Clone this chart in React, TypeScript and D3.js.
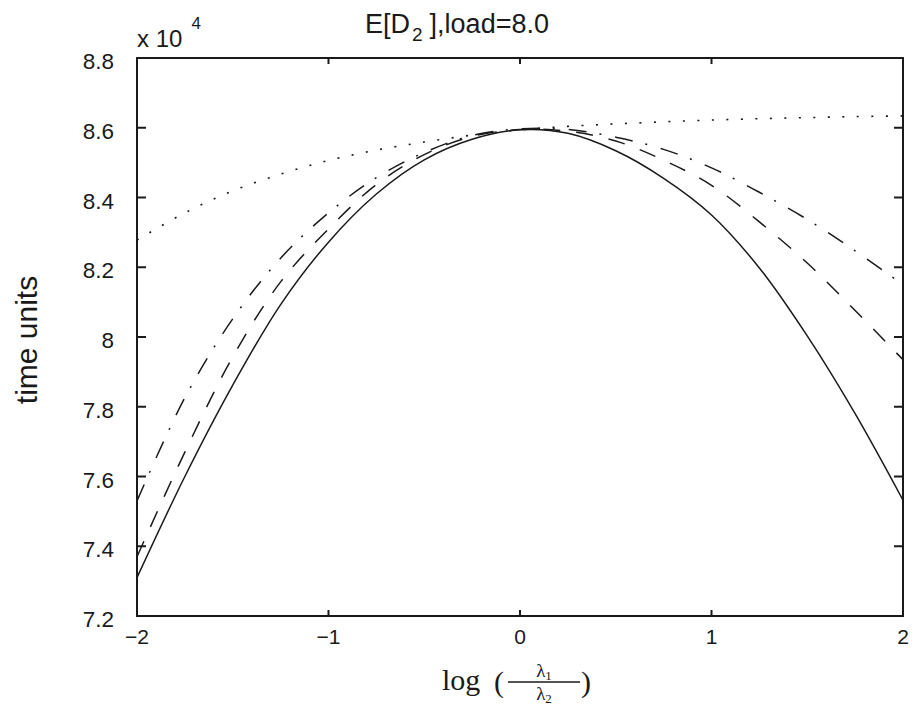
import React from "react";
import * as d3 from "d3";

const xs = [-2, -1.75, -1.5, -1.25, -1, -0.75, -0.5, -0.25, 0, 0.25, 0.5, 0.75, 1, 1.25, 1.5, 1.75, 2];
const solidVals = [7.31, 7.6, 7.862, 8.093, 8.272, 8.41, 8.508, 8.567, 8.594, 8.584, 8.534, 8.455, 8.35, 8.198, 8.003, 7.78, 7.532];
const dashedVals = [7.37, 7.67, 7.943, 8.158, 8.31, 8.437, 8.523, 8.575, 8.595, 8.59, 8.562, 8.507, 8.435, 8.33, 8.212, 8.076, 7.935];
const dashDotVals = [7.53, 7.826, 8.052, 8.226, 8.356, 8.457, 8.529, 8.578, 8.597, 8.595, 8.573, 8.538, 8.485, 8.415, 8.337, 8.247, 8.15];
const dottedVals = [8.278, 8.356, 8.419, 8.467, 8.506, 8.536, 8.559, 8.579, 8.594, 8.604, 8.611, 8.617, 8.622, 8.626, 8.629, 8.632, 8.634];

const yTicks = [7.2, 7.4, 7.6, 7.8, 8.0, 8.2, 8.4, 8.6, 8.8];
const yTickLabels = ["7.2", "7.4", "7.6", "7.8", "8", "8.2", "8.4", "8.6", "8.8"];
const xTicks = [-2, -1, 0, 1, 2];
const xTickLabels = ["\u22122", "\u22121", "0", "1", "2"];

const series = [
  { name: "solid", values: solidVals, dash: "none" },
  { name: "dashed", values: dashedVals, dash: "17,16" },
  { name: "dashdot", values: dashDotVals, dash: "18,13,2,14" },
  { name: "dotted", values: dottedVals, dash: "2,12.5" },
];

const W = 916;
const H = 709;
const L = 137, R = 903, T = 58, B = 616;
const SANS = "'Liberation Sans', Arial, Helvetica, sans-serif";
const SERIF = "'Liberation Serif', 'Times New Roman', serif";
const INK = "#1a1a1a";

export default function App() {
  const x = d3.scaleLinear().domain([-2, 2]).range([L, R]);
  const y = d3.scaleLinear().domain([7.2, 8.8]).range([B, T]);
  const line = d3
    .line<number>()
    .x((_, i) => x(xs[i]))
    .y((d) => y(d))
    .curve(d3.curveCatmullRom.alpha(0.5));

  return (
    <svg
      width={W}
      height={H}
      viewBox={`0 0 ${W} ${H}`}
      style={{ position: "absolute", left: 0, top: 0, background: "#fff" }}
    >
      <rect x={0} y={0} width={W} height={H} fill="#fff" />
      <defs>
        <clipPath id="clip">
          <rect x={L} y={T} width={R - L} height={B - T} />
        </clipPath>
      </defs>
      {/* title */}
      <text x={365} y={33} fontFamily={SANS} fontSize={27} fill={INK}>
        E[D
        <tspan fontSize={19} dy={8} dx={2}>2</tspan>
        <tspan dy={-8} dx={7}>],load=8.0</tspan>
      </text>
      {/* exponent */}
      <text x={137} y={47} fontFamily={SANS} fontSize={24} fill={INK}>
        x 10
        <tspan fontSize={17} dy={-18} dx={9}>4</tspan>
      </text>
      {/* curves */}
      <g clipPath="url(#clip)">
        {series.map((s) => (
          <path
            key={s.name}
            d={line(s.values) || ""}
            fill="none"
            stroke={INK}
            strokeWidth={s.name === "dotted" ? 1.6 : 1.5}
            strokeDasharray={s.dash}
            strokeLinecap="butt"
          />
        ))}
      </g>
      {/* ticks */}
      {yTicks.map((t) => (
        <g key={"yt" + t}>
          <line x1={L} x2={L + 9} y1={y(t)} y2={y(t)} stroke={INK} strokeWidth={2} />
          <line x1={R} x2={R - 9} y1={y(t)} y2={y(t)} stroke={INK} strokeWidth={2} />
        </g>
      ))}
      {xTicks.map((t) => (
        <g key={"xt" + t}>
          <line x1={x(t)} x2={x(t)} y1={B} y2={B - 6} stroke={INK} strokeWidth={2} />
          <line x1={x(t)} x2={x(t)} y1={T} y2={T + 6} stroke={INK} strokeWidth={2} />
        </g>
      ))}
      <rect x={L} y={T} width={R - L} height={B - T} fill="none" stroke={INK} strokeWidth={2} />
      {/* tick labels */}
      {yTicks.map((t, i) => (
        <text
          key={"yl" + t}
          x={114}
          y={y(t) + 11}
          textAnchor="end"
          fontFamily={SANS}
          fontSize={22.5}
          fill={INK}
        >
          {yTickLabels[i]}
        </text>
      ))}
      {xTicks.map((t, i) => (
        <text
          key={"xl" + t}
          x={x(t)}
          y={643.5}
          textAnchor="middle"
          fontFamily={SANS}
          fontSize={21}
          fill={INK}
        >
          {xTickLabels[i]}
        </text>
      ))}
      {/* y label */}
      <text
        transform={`translate(37,340) rotate(-90)`}
        textAnchor="middle"
        fontFamily={SANS}
        fontSize={30}
        fill={INK}
      >
        time units
      </text>
      {/* x label */}
      <text x={442} y={690} fontFamily={SERIF} fontSize={30} fill={INK}>
        log
      </text>
      <text x={494} y={692} fontFamily={SERIF} fontSize={30} fill={INK}>
        (
      </text>
      <text x={544} y={677} textAnchor="middle" fontFamily={SERIF} fontSize={19} fill={INK}>
        λ<tspan fontSize={13} dy={3}>1</tspan>
      </text>
      <line x1={508} x2={580} y1={682} y2={682} stroke={INK} strokeWidth={1.5} />
      <text x={544} y={700} textAnchor="middle" fontFamily={SERIF} fontSize={19} fill={INK}>
        λ<tspan fontSize={13} dy={3}>2</tspan>
      </text>
      <text x={581} y={692} fontFamily={SERIF} fontSize={30} fill={INK}>
        )
      </text>
    </svg>
  );
}
